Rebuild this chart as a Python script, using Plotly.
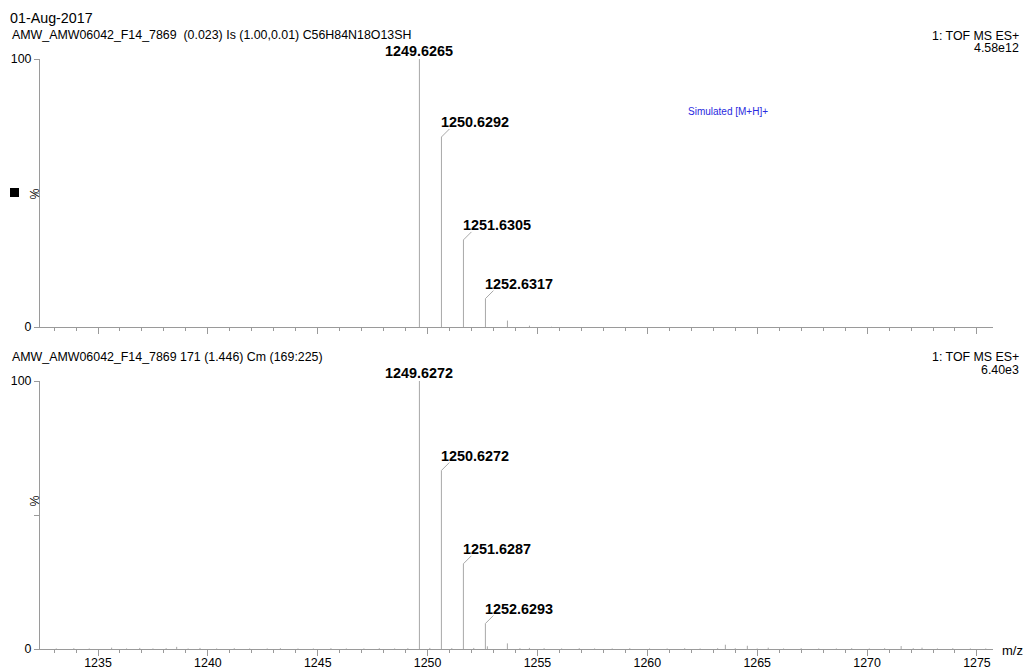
import plotly.graph_objects as go

# Simulated isotope pattern (top trace)
sim_mz = [1249.6265, 1250.6292, 1251.6305, 1252.6317, 1253.633, 1254.635, 1255.637]
sim_int = [100.0, 70.9, 32.5, 10.6, 2.4, 0.5, 0.1]
sim_labels = ["1249.6265", "1250.6292", "1251.6305", "1252.6317"]

# Measured spectrum, scan 171 (bottom trace)
obs_mz = [1249.6272, 1250.6272, 1251.6287, 1252.6293, 1253.630, 1254.632]
obs_int = [100.0, 66.6, 31.8, 9.5, 2.1, 0.4]
obs_labels = ["1249.6272", "1250.6272", "1251.6287", "1252.6293"]

# Low-level baseline signals in the measured scan
noise_mz = [1233.1, 1233.9, 1234.6, 1235.62, 1236.3, 1236.9, 1237.5, 1238.1, 1238.58,
            1239.1, 1239.64, 1240.4, 1241.2, 1241.9, 1242.7, 1243.3, 1244.1, 1244.8,
            1245.6, 1246.3, 1247.1, 1247.8, 1248.5, 1249.1, 1250.1, 1251.1, 1252.1,
            1252.72, 1254.2, 1255.3, 1256.1, 1256.9, 1257.6, 1258.4, 1259.2, 1260.1,
            1260.9, 1261.7, 1262.4, 1263.2, 1263.55, 1264.0, 1264.55, 1265.0, 1265.5,
            1266.2, 1267.0, 1267.8, 1268.6, 1269.3, 1270.1, 1270.8, 1271.55, 1272.1,
            1272.5, 1273.2, 1273.9, 1274.7, 1275.4]
noise_int = [0.2, 0.3, 0.2, 0.5, 0.2, 0.4, 0.2, 0.3, 0.8,
             0.2, 0.4, 0.2, 0.3, 0.2, 0.2, 0.3, 0.2, 0.2,
             0.3, 0.2, 0.2, 0.3, 0.2, 0.3, 0.4, 0.3, 0.4,
             1.0, 0.3, 0.3, 0.2, 0.3, 0.2, 0.2, 0.3, 0.2,
             0.2, 0.3, 0.2, 0.3, 1.6, 0.3, 1.2, 0.2, 0.5,
             0.2, 0.3, 0.2, 0.2, 0.3, 0.2, 0.3, 1.1, 0.3,
             0.5, 0.2, 0.3, 0.2, 0.2]

X_RANGE = [1232.36, 1275.73]
STICK = "#a8a8a8"
AXIS = "#9a9a9a"
FONT = "Liberation Sans, Arial, sans-serif"


def sticks(mz, inten):
    xs, ys = [], []
    for m, v in zip(mz, inten):
        xs += [m, m, None]
        ys += [0, v, None]
    return xs, ys


fig = go.Figure()

x1, y1 = sticks(sim_mz, sim_int)
fig.add_trace(go.Scatter(x=x1, y=y1, mode="lines", line=dict(color=STICK, width=1),
                         xaxis="x", yaxis="y", hoverinfo="skip", cliponaxis=False))
bx, by = sticks(obs_mz + noise_mz, obs_int + noise_int)
fig.add_trace(go.Scatter(x=bx, y=by, mode="lines", line=dict(color=STICK, width=1),
                         xaxis="x2", yaxis="y2", hoverinfo="skip", cliponaxis=False))

annotations = []
shapes = []


def label_peaks(mz, inten, labels, xr, yr):
    for m, v, t in zip(mz, inten, labels):
        if v >= 99.9:
            annotations.append(dict(x=m, y=v, xref=xr, yref=yr, text="<b>%s</b>" % t,
                                    showarrow=False, xanchor="center", yanchor="bottom",
                                    yshift=-2, font=dict(family=FONT, size=14.4, color="#000")))
        else:
            shapes.append(dict(type="line", xref=xr, yref=yr, xsizemode="pixel",
                               ysizemode="pixel", xanchor=m, yanchor=v,
                               x0=0, y0=0, x1=8, y1=8,
                               line=dict(color=STICK, width=1)))
            annotations.append(dict(x=m, y=v, xref=xr, yref=yr, text="<b>%s</b>" % t,
                                    showarrow=False, xanchor="left", yanchor="bottom",
                                    xshift=-2, yshift=5,
                                    font=dict(family=FONT, size=14.4, color="#000")))


label_peaks(sim_mz, sim_int, sim_labels, "x", "y")
label_peaks(obs_mz, obs_int, obs_labels, "x2", "y2")


def txt(x, y, s, size=12, anchor="left", color="#000", yanchor="middle"):
    annotations.append(dict(x=x / 1024, y=1 - y / 669, xref="paper", yref="paper",
                            text=s, showarrow=False, xanchor=anchor, yanchor=yanchor,
                            font=dict(family=FONT, size=size, color=color)))


txt(8, 18, "01-Aug-2017", size=14.3)
txt(10, 35, "AMW_AMW06042_F14_7869  (0.023) Is (1.00,0.01) C56H84N18O13SH", size=12.4)
txt(1021, 36, "1: TOF MS ES+", size=12.4, anchor="right")
txt(1021, 48, "4.58e12", size=12.4, anchor="right")
txt(10, 357, "AMW_AMW06042_F14_7869 171 (1.446) Cm (169:225)", size=12.4)
txt(1021, 357, "1: TOF MS ES+", size=12.4, anchor="right")
txt(1021, 370, "6.40e3", size=12.4, anchor="right")
txt(686, 111, "Simulated [M+H]+", size=10, color="#2a2ae0")
txt(1000, 650, "m/z", size=13)

# "%" axis captions
for yc in (187, 509):
    annotations.append(dict(x=25 / 1024, y=1 - yc / 669, xref="paper", yref="paper",
                            text="%", textangle=-90, showarrow=False,
                            font=dict(family=FONT, size=12.4, color="#000")))

# selection marker next to the top trace
shapes.append(dict(type="rect", xref="paper", yref="paper",
                   x0=10 / 1024, x1=19 / 1024, y0=1 - 197 / 669, y1=1 - 188 / 669,
                   fillcolor="#000", line=dict(width=0)))

xdom = [40 / 1024, 993 / 1024]
xcommon = dict(range=X_RANGE, domain=xdom, showline=True, linecolor=AXIS, linewidth=1,
               ticks="outside", tickcolor=AXIS, ticklen=6, tick0=1235, dtick=5,
               showgrid=False, zeroline=False, automargin=False,
               minor=dict(dtick=1, tick0=1235, ticks="outside", ticklen=3, tickcolor=AXIS),
               tickfont=dict(family=FONT, size=12.4, color="#000"))
ycommon = dict(range=[0, 100], showline=True, linecolor=AXIS, linewidth=1,
               ticks="outside", tickcolor=AXIS, ticklen=5, automargin=False,
               tickvals=[0, 50, 100], ticktext=["0", "", "100"],
               showgrid=False, zeroline=False,
               tickfont=dict(family=FONT, size=12.4, color="#000"))

fig.update_layout(
    width=1024, height=669, margin=dict(l=0, r=0, t=0, b=0),
    paper_bgcolor="white", plot_bgcolor="white", showlegend=False,
    xaxis=dict(**xcommon, anchor="y", showticklabels=False),
    yaxis=dict(**ycommon, domain=[1 - 327 / 669, 1 - 59 / 669], anchor="x"),
    xaxis2=dict(**xcommon, anchor="y2", showticklabels=True, ticklabelstandoff=-4),
    yaxis2=dict(**ycommon, domain=[1 - 649 / 669, 1 - 381 / 669], anchor="x2"),
    annotations=annotations, shapes=shapes,
)

fig.write_html("out.html")
